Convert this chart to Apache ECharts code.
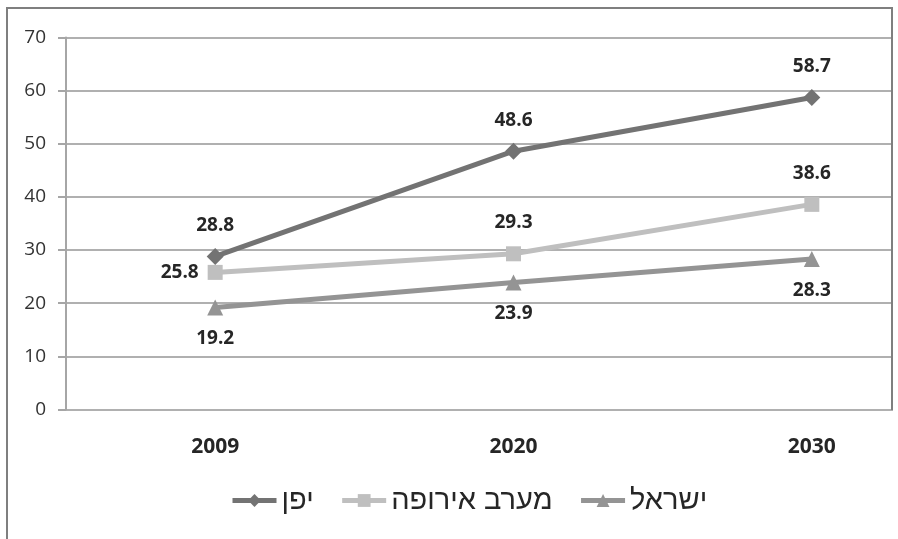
<!DOCTYPE html>
<html>
<head>
<meta charset="utf-8">
<style>
  html, body { margin: 0; padding: 0; background: #fff; }
  #frame { width: 898px; height: 539px; overflow: hidden; position: relative; }
  #chart { width: 961px; height: 539px; }
</style>
<script src="https://cdn.jsdelivr.net/npm/echarts@6/dist/echarts.min.js"></script>
</head>
<body>
<div id="frame"><div id="chart"></div></div>
<script>
// Categories (years) and series values
const years = ['2009', '2020', '2030'];
const japan = [28.8, 48.6, 58.7];
const westernEurope = [25.8, 29.3, 38.6];
const israel = [19.2, 23.9, 28.3];
const seriesNames = ['יפן', 'מערב אירופה', 'ישראל'];

const numFont = '"Open Sans", "Liberation Sans", sans-serif';
const hebFont = '"Liberation Sans", "DejaVu Sans", sans-serif';

const chart = echarts.init(document.getElementById('chart'), null, { renderer: 'canvas' });

function labelCfg(position, distance) {
  return {
    show: true,
    position: position,
    distance: distance,
    color: '#262626',
    fontFamily: numFont,
    fontWeight: 'bold',
    fontSize: 19
  };
}

chart.setOption({
  animation: false,
  backgroundColor: '#ffffff',
  // the plot continues past the right frame edge, which crops it
  grid: { left: 66, right: 0, top: 37.5, bottom: 129.5 },
  legend: {
    top: 486,
    left: 230,
    padding: 0,
    itemWidth: 44,
    itemHeight: 16,
    itemGap: 26,
    lineStyle: { width: 5 },
    textStyle: { fontFamily: hebFont, fontSize: 29, color: '#262626' },
    data: seriesNames
  },
  xAxis: {
    type: 'category',
    data: years,
    boundaryGap: true,
    axisLine: { show: false },
    axisTick: { show: false },
    axisLabel: {
      margin: 27,
      color: '#262626',
      fontFamily: numFont,
      fontWeight: 'bold',
      fontSize: 21
    }
  },
  yAxis: {
    type: 'value',
    min: 0,
    max: 70,
    interval: 10,
    axisLine: { show: true, lineStyle: { color: '#a6a6a6', width: 2 } },
    axisTick: { show: true, length: 8, lineStyle: { color: '#a6a6a6', width: 2 } },
    splitLine: { show: true, lineStyle: { color: '#b0b0b0', width: 2 } },
    axisLabel: {
      margin: 20,
      color: '#333333',
      fontFamily: numFont,
      fontSize: 19
    }
  },
  series: [
    {
      name: seriesNames[0],
      type: 'line',
      data: japan,
      symbol: 'diamond',
      symbolSize: 17,
      lineStyle: { color: '#737373', width: 5 },
      itemStyle: { color: '#737373' },
      label: labelCfg('top', 13),
      z: 4
    },
    {
      name: seriesNames[1],
      type: 'line',
      // the first value sits to the left of its marker
      data: westernEurope.map((v, i) => i === 0
        ? { value: v, label: { position: 'left', distance: 9 } }
        : v),
      symbol: 'rect',
      symbolSize: 15,
      lineStyle: { color: '#bfbfbf', width: 5 },
      itemStyle: { color: '#bfbfbf' },
      label: labelCfg('top', 14),
      z: 3
    },
    {
      name: seriesNames[2],
      type: 'line',
      data: israel,
      symbol: 'triangle',
      symbolSize: 16,
      lineStyle: { color: '#949494', width: 5 },
      itemStyle: { color: '#949494' },
      label: labelCfg('bottom', 14),
      z: 2
    }
  ],
  graphic: [
    // blank past the right frame edge
    { type: 'rect', z: 100, shape: { x: 893, y: 0, width: 80, height: 539 }, style: { fill: '#ffffff' } },
    // outer frame
    { type: 'line', z: 101, shape: { x1: 7, y1: 8, x2: 892, y2: 8 }, style: { stroke: '#7f7f7f', lineWidth: 2 } },
    { type: 'line', z: 101, shape: { x1: 7, y1: 7, x2: 7, y2: 539 }, style: { stroke: '#7f7f7f', lineWidth: 2 } },
    { type: 'line', z: 101, shape: { x1: 892, y1: 7, x2: 892, y2: 410 }, style: { stroke: '#7f7f7f', lineWidth: 2 } }
  ]
});
</script>
</body>
</html>
